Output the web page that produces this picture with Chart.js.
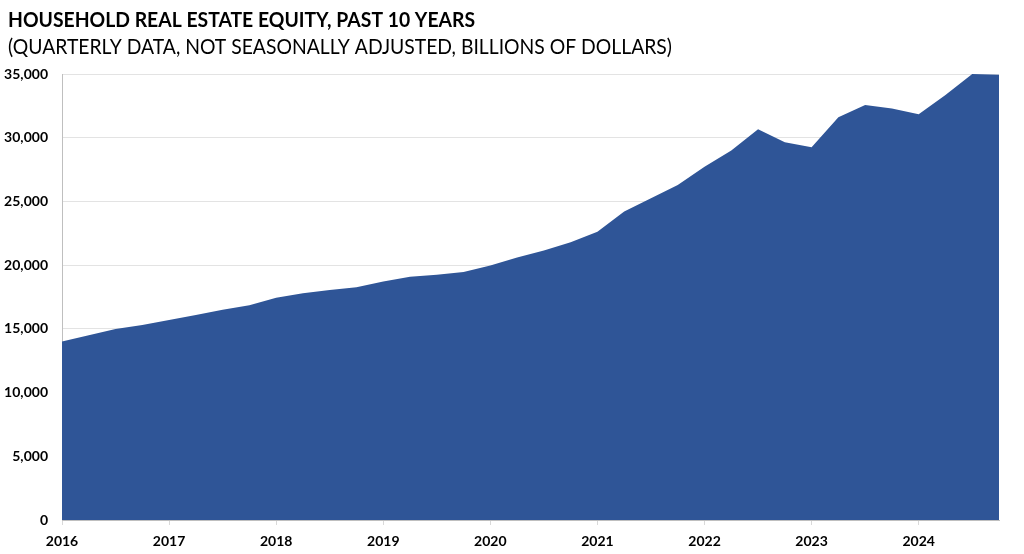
<!DOCTYPE html>
<html>
<head>
<meta charset="utf-8">
<script src="https://cdn.jsdelivr.net/npm/chart.js@4.4.1/dist/chart.umd.min.js"></script>
<style>
html,body{margin:0;padding:0;background:#fff;}
#wrap{position:relative;width:1024px;height:554px;}
</style>
</head>
<body>
<div id="wrap"><canvas id="c" width="1024" height="554"></canvas></div>
<script>
const titleText = "HOUSEHOLD REAL ESTATE EQUITY, PAST 10 YEARS";
const subtitleText = "(QUARTERLY DATA, NOT SEASONALLY ADJUSTED, BILLIONS OF DOLLARS)";
const years = [2016, 2017, 2018, 2019, 2020, 2021, 2022, 2023, 2024];
const quarters = ["Q1", "Q2", "Q3", "Q4"];
const equity = [14000, 14490, 14990, 15300, 15690, 16090, 16500, 16850,
                17450, 17790, 18050, 18260, 18720, 19090, 19250, 19460,
                19980, 20590, 21140, 21790, 22630, 24200, 25240, 26290,
                27730, 28990, 30660, 29640, 29250, 31600, 32570, 32300,
                31840, 33350, 35000, 34950];
const yTicks = [0, 5000, 10000, 15000, 20000, 25000, 30000, 35000];

const labels = [];
years.forEach(y => quarters.forEach(q => labels.push(y + " " + q)));

const FONT = "Lato, 'Open Sans', sans-serif";

function drawFitted(ctx, text, weight, size, x, y, targetW) {
  ctx.font = weight + " " + size + "px " + FONT;
  const w = ctx.measureText(text).width;
  const sx = Math.min(1, targetW / w);
  ctx.save();
  ctx.translate(x, y);
  ctx.scale(sx, 1);
  ctx.fillText(text, 0, 0);
  ctx.restore();
}

const titlePlugin = {
  id: 'titles',
  afterDraw(chart) {
    const ctx = chart.ctx;
    ctx.save();
    ctx.fillStyle = '#000';
    ctx.textBaseline = 'alphabetic';
    ctx.textAlign = 'left';
    drawFitted(ctx, titleText, 'bold', 20, 8, 26.5, 467);
    drawFitted(ctx, subtitleText, 'normal', 21, 8, 54, 664);
    ctx.restore();
  }
};

new Chart(document.getElementById('c'), {
  type: 'line',
  data: {
    labels: labels,
    datasets: [{
      data: equity,
      fill: 'origin',
      backgroundColor: '#2F5597',
      borderColor: '#2F5597',
      borderWidth: 0,
      pointRadius: 0,
      tension: 0
    }]
  },
  options: {
    responsive: false,
    animation: false,
    events: [],
    layout: { padding: { top: 74, right: 25, left: 0, bottom: 0 } },
    plugins: { legend: { display: false }, tooltip: { enabled: false }, title: { display: false } },
    scales: {
      x: {
        offset: false,
        afterFit(s) { s.height = 34; },
        grid: {
          drawOnChartArea: false,
          drawTicks: true,
          tickLength: 5,
          color: (c) => (c.index % 4 === 0 ? '#D9D9D9' : 'rgba(0,0,0,0)')
        },
        border: { display: true, color: '#BFBFBF', width: 1 },
        ticks: {
          autoSkip: false,
          maxRotation: 0,
          padding: 8,
          color: '#000',
          font: { family: FONT, weight: 'bold', size: 14 },
          callback: (v, i) => (i % 4 === 0 ? labels[i].split(' ')[0] : '')
        }
      },
      y: {
        min: yTicks[0],
        max: yTicks[yTicks.length - 1],
        afterFit(s) { s.width = 62; },
        afterBuildTicks(s) { s.ticks = yTicks.map(v => ({ value: v })); },
        grid: { color: '#E3E3E3', drawTicks: false, lineWidth: 1 },
        border: { display: true, color: '#BFBFBF', width: 1 },
        ticks: {
          padding: 14,
          color: '#000',
          font: { family: FONT, weight: 'bold', size: 14 },
          callback: (v) => v.toLocaleString('en-US')
        }
      }
    }
  },
  plugins: [titlePlugin]
});
</script>
</body>
</html>
